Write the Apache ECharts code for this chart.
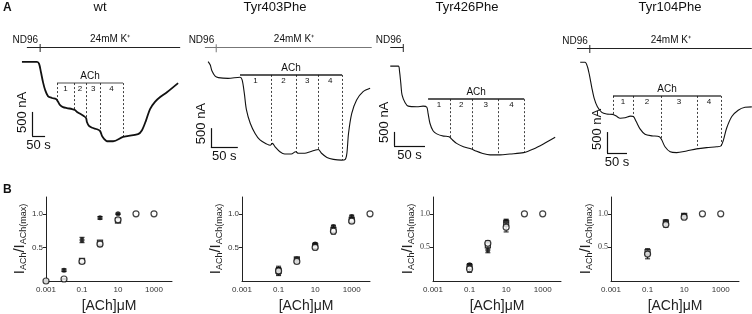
<!DOCTYPE html>
<html>
<head>
<meta charset="utf-8">
<script src="https://cdn.jsdelivr.net/npm/echarts@6/dist/echarts.min.js"></script>
<style>
html,body{margin:0;padding:0;background:#fff}
#main{width:752px;height:314px}
</style>
</head>
<body>
<div id="main"></div>
<script>
var FONT = 'Liberation Sans, Arial, sans-serif';

// ---------- panel A : current traces, [time s, current nA] ----------
var wtTrace = [[46,-560],[104,-560],[112,-600],[119,-770],[127,-980],[135,-1140],[146,-1270],[162,-1310],[177,-1330],
  [185,-1390],[193,-1460],[204,-1500],[219,-1520],[239,-1540],[250,-1560],[258,-1600],[270,-1640],[285,-1690],
  [293,-1730],[296,-1810],[304,-1890],[316,-1930],[335,-1960],[347,-2000],[354,-2100],[362,-2160],[373,-2210],
  [397,-2210],[435,-2120],[493,-2060],[508,-1980],[524,-1770],[539,-1540],[558,-1390],[578,-1290],[604,-1190],[647,-1000]];
var tyr403Trace = [[28,-700],[32,-790],[35,-940],[41,-1080],[47,-1120],[65,-1140],[87,-1110],[91,-1180],[95,-1530],
  [99,-1970],[106,-2320],[115,-2590],[124,-2760],[137,-2870],[143,-2900],[147,-2850],[152,-2940],[161,-3070],
  [170,-3130],[182,-3130],[190,-3070],[195,-3110],[207,-3110],[217,-3070],[226,-3030],[232,-3010],[238,-3110],
  [248,-3220],[260,-3270],[275,-3290],[282,-3270],[285,-3110],[288,-2590],[294,-2060],[303,-1710],[315,-1490],[328,-1400]];
var tyr426Trace = [[23,-1110],[36,-1110],[38,-1310],[40,-1720],[42,-2140],[47,-2420],[52,-2540],[66,-2560],[76,-2540],
  [82,-2580],[84,-2800],[87,-3150],[92,-3420],[98,-3530],[109,-3610],[118,-3630],[122,-3720],[130,-3870],[141,-3990],
  [154,-4070],[160,-4130],[171,-4220],[184,-4280],[200,-4280],[216,-4250],[238,-4200],[254,-4070],[270,-3890],[289,-3650]];
var tyr104Trace = [[38,-650],[50,-650],[56,-750],[61,-950],[67,-1250],[73,-1510],[81,-1710],[92,-1840],[104,-1880],
  [119,-1890],[128,-1930],[138,-1980],[150,-1970],[164,-1930],[171,-1940],[178,-2060],[188,-2240],[200,-2360],
  [217,-2400],[236,-2420],[242,-2500],[250,-2660],[263,-2780],[279,-2800],[304,-2760],[329,-2710],[354,-2680],
  [379,-2660],[390,-2640],[396,-2500],[404,-2220],[417,-1940],[433,-1790],[450,-1720],[467,-1710]];

// solution bar: [start, switch to 24 mM K+, end] (s) and its level (nA)
var wtSol = [65, 116, 655],      wtSolLevel = -250;
var tyr403Sol = [22, 43, 331],   tyr403SolLevel = -320;
var tyr426Sol = [23, 44, 297],   tyr426SolLevel = -430;
var tyr104Sol = [30, 62, 467],   tyr104SolLevel = -310;

// ACh application: edges of steps 1-4 (s), bar level and where dashed lines meet the trace
var wtAch = [181, 246, 293, 347, 435],    wtAchLevel = -1000,    wtDashEnds = [-1370, -1560, -1730, -2000, -2120];
var tyr403Ach = [87, 144, 191, 232, 276], tyr403AchLevel = -1050, tyr403DashEnds = [null, -2880, -3080, -3010, -3290];
var tyr426Ach = [84, 119, 156, 198, 239], tyr426AchLevel = -2290, tyr426DashEnds = [null, -3650, -4090, -4280, -4200];
var tyr104Ach = [120, 170, 240, 330, 390], tyr104AchLevel = -1450, tyr104DashEnds = [-1890, -1940, -2470, -2710, -2640];
var stepLabels = ['1', '2', '3', '4'];

// scale bars: corner [s, nA]; 500 nA / 50 s
var wtScale = [85, -2100], tyr403Scale = [33, -2950], tyr426Scale = [29, -3960], tyr104Scale = [105, -2810];

// ---------- panel B : concentration response ----------
var xTickValues = [0.001, 0.1, 10, 1000];
var xTickLabels = ['0.001', '0.1', '10', '1000'];
var yTickValues = [0.5, 1.0];
var yTickLabels = ['0.5', '1.0'];

var wtFilledX = [0.001, 0.01, 0.1, 1, 10],        wtFilledY = [0, 0.16, 0.61, 0.94, 1.0],   wtFilledErr = [0, 0.02, 0.04, 0.02, 0.01];
var wtSquareX = [0.1, 1, 10],                     wtSquareY = [0.30, 0.57, 0.90],          wtSquareErr = [0.03, 0.03, 0.02];
var wtCircleX = [0.001, 0.01, 0.1, 1, 10, 100, 1000], wtCircleY = [0, 0.03, 0.29, 0.55, 0.91, 1, 1], wtCircleErr = [0, 0.01, 0.02, 0.04, 0.02, 0, 0];

var tyr403FilledX = [0.1, 1, 10, 100, 1000],      tyr403FilledY = [0.16, 0.33, 0.55, 0.81, 0.96], tyr403FilledErr = [0.04, 0.02, 0.02, 0.02, 0.02];
var tyr403SquareX = [0.1, 1, 10, 100, 1000],      tyr403SquareY = [0.15, 0.32, 0.52, 0.76, 0.91], tyr403SquareErr = [0.05, 0.03, 0.02, 0.03, 0.02];
var tyr403CircleX = [0.1, 1, 10, 100, 1000, 10000], tyr403CircleY = [0.15, 0.29, 0.50, 0.74, 0.89, 1], tyr403CircleErr = [0.07, 0.03, 0.02, 0.04, 0.03, 0];

var tyr426FilledX = [0.1, 1, 10],                 tyr426FilledY = [0.24, 0.46, 0.88],      tyr426FilledErr = [0.02, 0.04, 0.04];
var tyr426SquareX = [0.1, 1, 10],                 tyr426SquareY = [0.21, 0.53, 0.86],      tyr426SquareErr = [0.03, 0.03, 0.05];
var tyr426CircleX = [0.1, 1, 10, 100, 1000],      tyr426CircleY = [0.18, 0.56, 0.80, 1, 1], tyr426CircleErr = [0.05, 0.04, 0.07, 0, 0];

var tyr104FilledX = [0.1, 1, 10],                 tyr104FilledY = [0.42, 0.88, 0.98],      tyr104FilledErr = [0.03, 0.03, 0.02];
var tyr104SquareX = [0.1, 1, 10],                 tyr104SquareY = [0.43, 0.87, 0.97],      tyr104SquareErr = [0.05, 0.02, 0.02];
var tyr104CircleX = [0.1, 1, 10, 100, 1000],      tyr104CircleY = [0.40, 0.84, 0.95, 1, 1], tyr104CircleErr = [0.07, 0.04, 0.02, 0, 0];

var titles = ['wt', 'Tyr403Phe', 'Tyr426Phe', 'Tyr104Phe'];

function traceSeries(idx, trace, sol, solLevel, ach, achLevel, dashEnds, scale, lw, solColor, achColor) {
    var ml = [];
    ml.push([{coord: [sol[0], solLevel], lineStyle: {color: solColor},
              label: {show: true, position: 'insideEndTop', formatter: 'ND96', distance: 2, fontSize: 10}},
             {coord: [sol[1], solLevel]}]);
    ml.push([{coord: [sol[1], solLevel], lineStyle: {color: solColor},
              label: {show: true, position: 'insideMiddleTop', formatter: '24mM K⁺', distance: 3, fontSize: 10}},
             {coord: [sol[2], solLevel]}]);
    ml.push([{coord: [ach[0], achLevel], lineStyle: {color: achColor, width: 1.6},
              label: {show: true, position: 'insideMiddleTop', formatter: 'ACh', distance: 2, fontSize: 10}},
             {coord: [ach[ach.length - 1], achLevel]}]);
    for (var i = 0; i < ach.length; i++) {
        if (dashEnds[i] == null) continue;
        ml.push([{coord: [ach[i], achLevel], lineStyle: {type: [2, 2], width: 0.8, color: '#111'}},
                 {coord: [ach[i], dashEnds[i]]}]);
    }
    ml.push([{coord: [scale[0], scale[1]], lineStyle: {color: '#111', width: 1.2},
              label: {show: true, position: 'insideStartTop', formatter: '500 nA', distance: 3, fontSize: 13}},
             {coord: [scale[0], scale[1] + 500]}]);
    ml.push([{coord: [scale[0], scale[1]], lineStyle: {color: '#111', width: 1.2},
              label: {show: true, position: 'insideMiddleBottom', formatter: '50 s', distance: 3, fontSize: 13}},
             {coord: [scale[0] + 50, scale[1]]}]);

    var ma = [];
    for (var j = 0; j < ach.length - 1; j++) {
        ma.push([{coord: [ach[j], achLevel], name: stepLabels[j]}, {coord: [ach[j + 1], achLevel]}]);
    }
    return {
        type: 'line', xAxisIndex: idx, yAxisIndex: idx,
        data: trace, symbol: 'none', smooth: 0.3,
        lineStyle: {color: '#111', width: lw},
        markLine: {
            silent: true, symbol: ['none', 'none'], animation: false,
            label: {show: false, color: '#111', fontFamily: FONT},
            lineStyle: {color: '#222', width: 1, type: 'solid'},
            emphasis: {disabled: true},
            data: ml
        },
        markPoint: {
            silent: true, animation: false,
            data: [{coord: [sol[1], solLevel], symbol: 'rect', symbolSize: [1, 8], symbolOffset: [0, 1],
                    itemStyle: {color: solColor}, label: {show: false}}]
        },
        markArea: {
            silent: true, animation: false,
            itemStyle: {color: 'transparent'},
            label: {show: true, position: 'bottom', distance: 2, fontSize: 8, color: '#111', fontFamily: FONT},
            data: ma
        }
    };
}

function pts(xs, ys) {
    return xs.map(function (x, i) { return [x, ys[i]]; });
}
function errs(xs, ys, es) {
    var out = [];
    xs.forEach(function (x, i) { if (es[i] > 0) out.push([x, ys[i] - es[i], ys[i] + es[i]]); });
    return out;
}
function renderErr(params, api) {
    var x = api.value(0);
    var p1 = api.coord([x, api.value(1)]);
    var p2 = api.coord([x, api.value(2)]);
    var st = {stroke: '#111', lineWidth: 1};
    return {type: 'group', children: [
        {type: 'line', shape: {x1: p1[0], y1: p1[1], x2: p2[0], y2: p2[1]}, style: st},
        {type: 'line', shape: {x1: p1[0] - 2.5, y1: p1[1], x2: p1[0] + 2.5, y2: p1[1]}, style: st},
        {type: 'line', shape: {x1: p2[0] - 2.5, y1: p2[1], x2: p2[0] + 2.5, y2: p2[1]}, style: st}
    ]};
}
function doseSeries(idx, fx, fy, fe, sx, sy, se, cx, cy, ce) {
    var e = errs(fx, fy, fe).concat(errs(sx, sy, se), errs(cx, cy, ce));
    return [
        {type: 'custom', xAxisIndex: idx, yAxisIndex: idx, renderItem: renderErr, data: e,
         encode: {x: 0, y: [1, 2]}, silent: true},
        {type: 'scatter', xAxisIndex: idx, yAxisIndex: idx, data: pts(sx, sy), symbol: 'rect', symbolSize: 5,
         itemStyle: {color: '#fff', borderColor: '#111', borderWidth: 1.3}, silent: true},
        {type: 'scatter', xAxisIndex: idx, yAxisIndex: idx, data: pts(fx, fy), symbol: 'circle', symbolSize: 5,
         itemStyle: {color: '#111'}, silent: true},
        {type: 'scatter', xAxisIndex: idx, yAxisIndex: idx, data: pts(cx, cy), symbol: 'circle', symbolSize: 6,
         itemStyle: {color: '#fff', borderColor: '#111', borderWidth: 1.2}, silent: true}
    ];
}

// only every second decade carries a label; others get a blank
function xLabel(v) {
    for (var i = 0; i < xTickValues.length; i++) {
        if (Math.abs(Math.log10(v) - Math.log10(xTickValues[i])) < 0.01) return xTickLabels[i];
    }
    return ' ';
}
function yLabel(v) {
    for (var i = 0; i < yTickValues.length; i++) {
        if (Math.abs(v - yTickValues[i]) < 1e-6) return yTickLabels[i];
    }
    return ' ';
}

var gridsA = [
    {left: 10, top: 35, width: 172, height: 130},
    {left: 193, top: 35, width: 179, height: 130},
    {left: 376, top: 35, width: 184, height: 130},
    {left: 565, top: 35, width: 187, height: 130}
];
var rangesA = [[662, -2704], [331.5, -3419], [296.8, -4641], [467.5, -3094]];
var gridsB = [
    {left: 46, top: 197, width: 126, height: 84},
    {left: 242, top: 197, width: 128, height: 84},
    {left: 433, top: 197, width: 128, height: 84},
    {left: 611, top: 197, width: 128, height: 84}
];
var yLabelFonts = [FONT, FONT, 'Liberation Serif, serif', 'Liberation Serif, serif'];

var xAxes = [], yAxes = [];
rangesA.forEach(function (r, i) {
    xAxes.push({type: 'value', show: false, min: 0, max: r[0], gridIndex: i});
    yAxes.push({type: 'value', show: false, min: r[1], max: 0, gridIndex: i});
});
gridsB.forEach(function (g, i) {
    xAxes.push({
        type: 'log', logBase: 10, min: 0.001, max: 10000, gridIndex: 4 + i,
        axisLine: {lineStyle: {color: '#222', width: 1}},
        axisTick: {show: false},
        splitLine: {show: false},
        axisLabel: {formatter: xLabel, fontSize: 8, color: '#333', margin: 5, fontFamily: FONT},
        name: '[ACh]μM', nameLocation: 'middle', nameGap: 18,
        nameTextStyle: {fontSize: 14, color: '#222', fontFamily: FONT}
    });
    yAxes.push({
        type: 'value', min: 0, max: 1.25, interval: 0.5, gridIndex: 4 + i,
        axisLine: {show: true, lineStyle: {color: '#222', width: 1}},
        axisTick: {show: true, length: 3, customValues: yTickValues, lineStyle: {color: '#222'}},
        splitLine: {show: false},
        axisLabel: {formatter: yLabel, customValues: yTickValues, fontSize: 8, color: '#333', margin: 3,
                    fontFamily: yLabelFonts[i]},
        name: '{m|I}{s|ACh}{m|/I}{s|ACh(max)}', nameLocation: 'middle', nameRotate: 90, nameGap: 17,
        nameTextStyle: {
            color: '#222', fontFamily: FONT,
            rich: {
                m: {fontSize: 15, lineHeight: 17, color: '#222', fontFamily: FONT},
                s: {fontSize: 9, lineHeight: 9, verticalAlign: 'bottom', color: '#222', fontFamily: FONT}
            }
        }
    });
});

var series = [
    traceSeries(0, wtTrace, wtSol, wtSolLevel, wtAch, wtAchLevel, wtDashEnds, wtScale, 1.8, '#222', '#888'),
    traceSeries(1, tyr403Trace, tyr403Sol, tyr403SolLevel, tyr403Ach, tyr403AchLevel, tyr403DashEnds, tyr403Scale, 1.1, '#777', '#222'),
    traceSeries(2, tyr426Trace, tyr426Sol, tyr426SolLevel, tyr426Ach, tyr426AchLevel, tyr426DashEnds, tyr426Scale, 1.1, '#222', '#222'),
    traceSeries(3, tyr104Trace, tyr104Sol, tyr104SolLevel, tyr104Ach, tyr104AchLevel, tyr104DashEnds, tyr104Scale, 1.1, '#222', '#444')
].concat(
    doseSeries(4, wtFilledX, wtFilledY, wtFilledErr, wtSquareX, wtSquareY, wtSquareErr, wtCircleX, wtCircleY, wtCircleErr),
    doseSeries(5, tyr403FilledX, tyr403FilledY, tyr403FilledErr, tyr403SquareX, tyr403SquareY, tyr403SquareErr, tyr403CircleX, tyr403CircleY, tyr403CircleErr),
    doseSeries(6, tyr426FilledX, tyr426FilledY, tyr426FilledErr, tyr426SquareX, tyr426SquareY, tyr426SquareErr, tyr426CircleX, tyr426CircleY, tyr426CircleErr),
    doseSeries(7, tyr104FilledX, tyr104FilledY, tyr104FilledErr, tyr104SquareX, tyr104SquareY, tyr104SquareErr, tyr104CircleX, tyr104CircleY, tyr104CircleErr)
);

var titleX = [100, 275, 467, 670];
var graphic = [
    {type: 'text', x: 3, y: 2, style: {text: 'A', fontSize: 12, fontWeight: 'bold', fontFamily: FONT, fill: '#111'}},
    {type: 'text', x: 3, y: 184, style: {text: 'B', fontSize: 12, fontWeight: 'bold', fontFamily: FONT, fill: '#111'}}
];
titles.forEach(function (t, i) {
    graphic.push({type: 'text', x: titleX[i], y: 1,
        style: {text: t, fontSize: 13, fontFamily: FONT, fill: '#111', textAlign: 'center'}});
});

var chart = echarts.init(document.getElementById('main'));
var option = {
    animation: false,
    backgroundColor: '#fff',
    textStyle: {fontFamily: FONT},
    grid: gridsA.concat(gridsB),
    xAxis: xAxes,
    yAxis: yAxes,
    graphic: graphic,
    series: series
};
chart.setOption(option, true);
</script>
</body>
</html>
